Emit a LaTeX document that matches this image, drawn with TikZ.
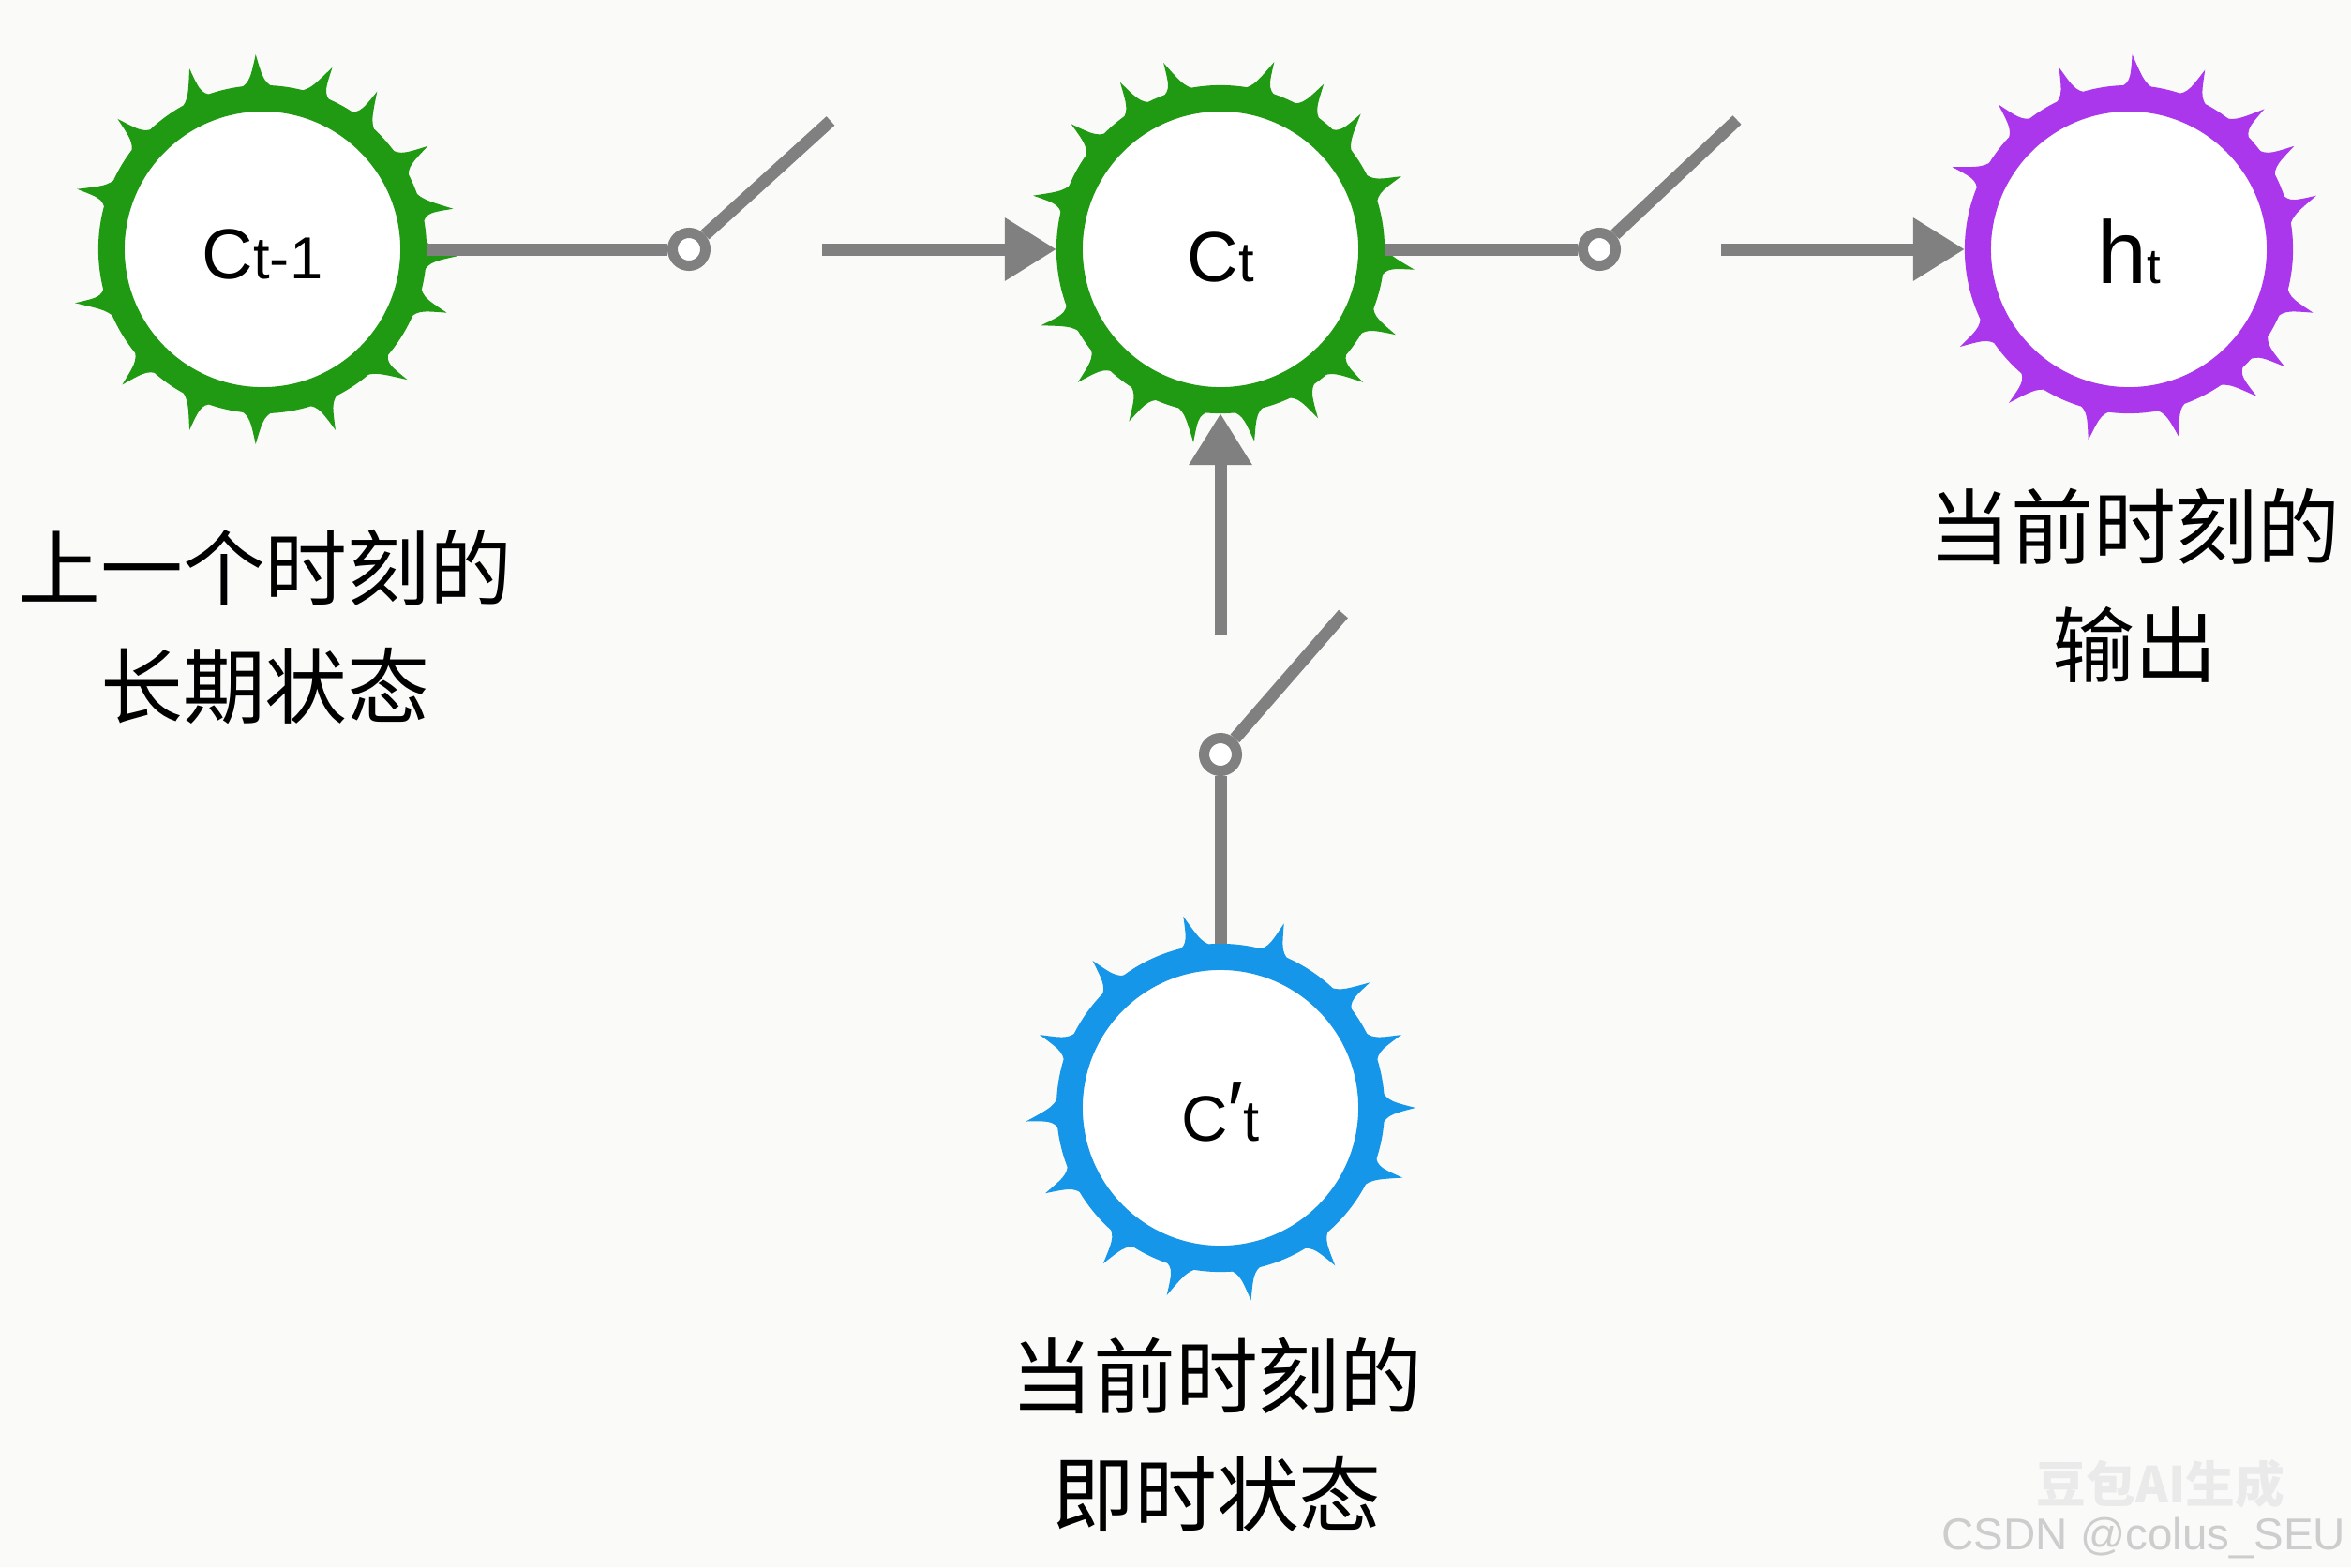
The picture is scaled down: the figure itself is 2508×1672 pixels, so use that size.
\documentclass[tikz,border=0pt]{standalone}
\usepackage{fontspec}
\setmainfont{Liberation Sans}
\newfontfamily\cjk{Noto Sans CJK SC}
\usetikzlibrary{arrows.meta}
\definecolor{bgc}{RGB}{250,251,248}
\definecolor{ringgreen}{RGB}{32,154,18}
\definecolor{ringblue}{RGB}{22,150,232}
\definecolor{ringpurple}{RGB}{170,55,235}
\definecolor{wiregray}{RGB}{128,128,128}
\definecolor{wmgray}{RGB}{205,205,205}
\definecolor{wmwhite}{RGB}{234,234,234}

\newcommand\spikering[3]{%
  \begin{scope}[shift={(#1.center)},yscale=-1]
    \foreach \a/\t in {#3}{%
      \fill[#2] (\a-8.5:170) .. controls (\a-2.5:178) .. (\a+\t:208)
                .. controls (\a+2.5:178) .. (\a+8.5:170) -- cycle;}
  \end{scope}}

\tikzset{
  ring/.style={circle, draw=#1, line width=0.28cm, minimum size=3.22cm,
               inner sep=0pt, fill=white, text=black},
  pivot/.style={circle, draw=wiregray, line width=0.11cm, minimum size=0.35cm,
                inner sep=0pt, fill=white},
  wire/.style={draw=wiregray, line width=0.13cm},
  arrowwire/.style={wire, -{Triangle[length=0.55cm,width=0.64cm]}},
  lbl/.style={font=\cjk\fontsize{25}{36}\selectfont, align=center,
              inner sep=0pt, text=black},
}

\begin{document}
\begin{tikzpicture}[x=0.01cm,y=-0.01cm]
\useasboundingbox (0,0) rectangle (2508,1672);
\fill[bgc] (0,0) rectangle (2508,1672);

% state circles
\node[ring=ringgreen] (c1) at (280,266)
  {\raisebox{-0.05cm}[\height][\depth]{\fontsize{21.5}{21.5}\selectfont C\fontsize{18}{18}\selectfont t-1}};
\node[ring=ringgreen] (c2) at (1302,266)
  {\raisebox{-0.08cm}[\height][\depth]{\fontsize{21.5}{21.5}\selectfont C\fontsize{17}{17}\selectfont t}};
\node[ring=ringpurple] (c3) at (2271,266)
  {\raisebox{-0.02cm}[\height][\depth]{\fontsize{27}{27}\selectfont h\fontsize{15}{15}\selectfont t}};
\node[ring=ringblue] (c4) at (1302,1182)
  {\raisebox{-0.045cm}[\height][\depth]{\fontsize{19.5}{19.5}\selectfont C\fontsize{26}{26}\selectfont ′\fontsize{17.5}{17.5}\selectfont t}};

% thorns
\spikering{c1}{ringgreen}{92/0,71/-2,52/2,32/0,15/-3,-2/0,-19/0,-45/3,-68/0,-92/0,-114/2,-136/0,-161/-3,160/2,138/0,114/-2}
\spikering{c2}{ringgreen}{121/0,105/2,76/-2,58/0,42/2,22/0,-4/-2,-26/0,-45/2,-60/0,-80/0,-100/2,-118/0,-137/0,-155/-2,162/2,140/0}
\spikering{c3}{ringpurple}{111/0,87/2,67/0,48/-2,32/0,14/2,-19/0,-37/0,-51/2,-75/0,-102/0,-126/-2,-150/0,153/2,132/0}
\spikering{c4}{ringblue}{99/2,71/0,42/-2,22/0,0/0,-23/2,-54/0,-81/0,-104/-2,-127/0,-154/0,-178/2,158/0,131/0}

% switches
\node[pivot] (p1) at (735,266) {};
\node[pivot] (p2) at (1706,266) {};
\node[pivot] (p3) at (1302,805) {};
\coordinate (l1) at (886,129);
\coordinate (l2) at (1853,128);
\coordinate (l3) at (1433,655);
\coordinate (a1) at (877,266);
\coordinate (a2) at (1836,266);
\coordinate (a3) at (1302,678);

\draw[wire] (c1.east) -- (p1.west);
\draw[wire] (p1.42) -- (l1);
\draw[arrowwire] (a1) -- (c2.west);
\draw[wire] (c2.east) -- (p2.west);
\draw[wire] (p2.43) -- (l2);
\draw[arrowwire] (a2) -- (c3.west);
\draw[wire] (c4.north) -- (p3.south);
\draw[wire] (p3.48) -- (l3);
\draw[arrowwire] (a3) -- (c2.south);

% labels
\node[lbl] (t1) at (283,669) {上一个时刻的\\长期状态};
\node[lbl] (t3) at (2277,625) {当前时刻的\\输出};
\node[lbl] (t4) at (1298,1531) {当前时刻的\\即时状态};

% watermark
\node[font=\cjk\bfseries\fontsize{15}{15}\selectfont, text=wmwhite, inner sep=0pt] (wm1) at (2305,1583) {豆包AI生成};
\node[font=\fontsize{13.5}{13.5}\selectfont, text=wmgray, anchor=base east, inner sep=0pt] (wm2) at (2503,1653) {CSDN @colus\_SEU};
\end{tikzpicture}
\end{document}
